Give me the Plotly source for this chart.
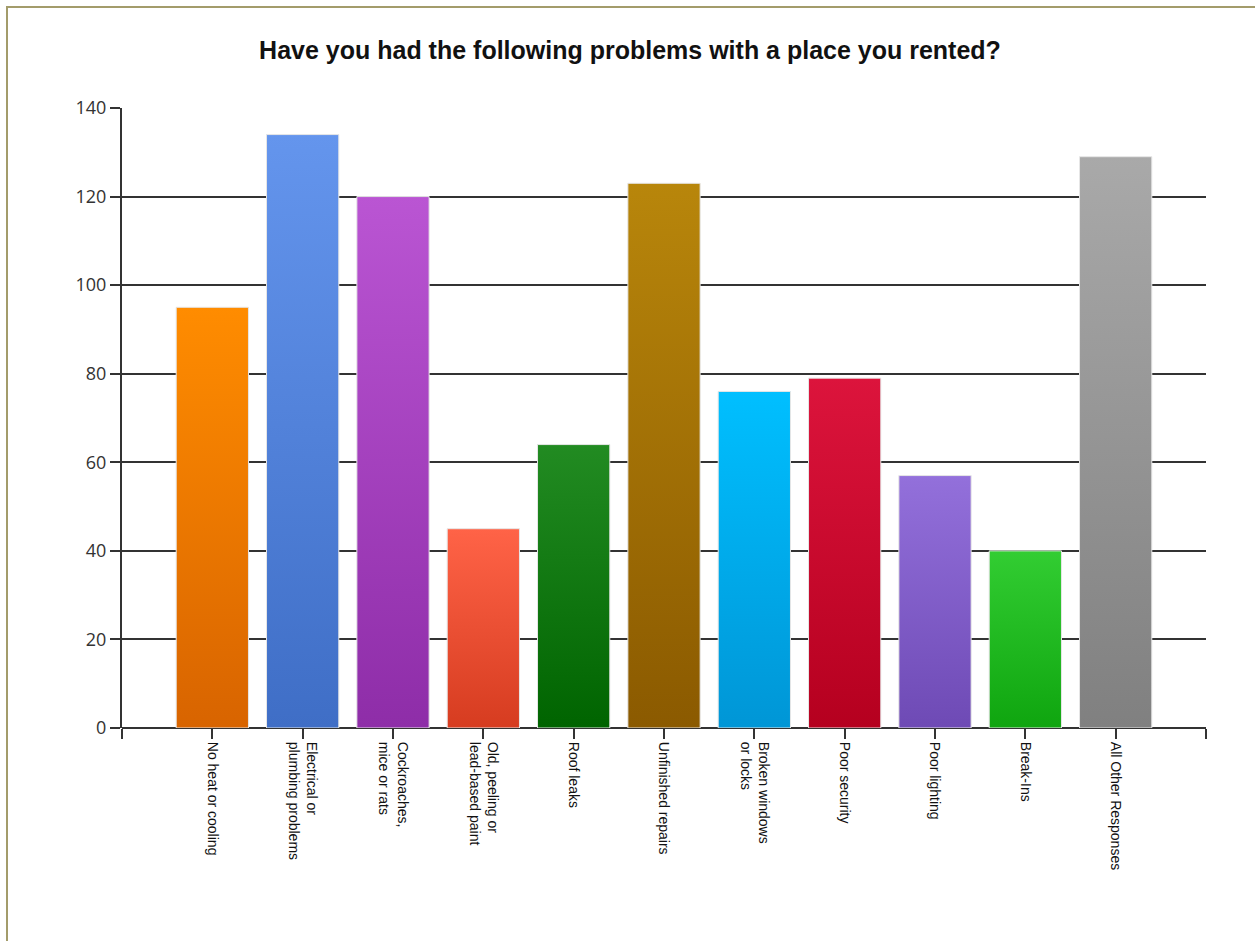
import plotly.graph_objects as go

categories = ["No heat or cooling", "Electrical or<br>plumbing problems", "Cockroaches,<br>mice or rats",
              "Old, peeling or<br>lead-based paint", "Roof leaks", "Unfinished repairs",
              "Broken windows<br>or locks", "Poor security", "Poor lighting", "Break-Ins",
              "All Other Responses"]
counts = [95, 134, 120, 45, 64, 123, 76, 79, 57, 40, 129]
top_colors = ["#FF8C00", "#6495ED", "#BA55D3", "#FF6347", "#228B22", "#B8860B",
              "#00BFFF", "#DC143C", "#9370DB", "#32CD32", "#A9A9A9"]
bottom_colors = ["#D86400", "#3F6EC6", "#8E2DA8", "#D63C20", "#006400", "#8B5A00",
                 "#0096D6", "#B5001F", "#6E4AB5", "#0FA50F", "#808080"]

half = 0.4
fig = go.Figure()
for i, (v, c_top, c_bot) in enumerate(zip(counts, top_colors, bottom_colors)):
    fig.add_trace(go.Scatter(
        x=[i - half, i + half, i + half, i - half, i - half],
        y=[0, 0, v, v, 0],
        mode="lines", fill="toself",
        line=dict(color="#E6E6E6", width=1),
        fillgradient=dict(type="vertical", colorscale=[[0, c_bot], [1, c_top]]),
        hoverinfo="skip", showlegend=False,
    ))

tickvals = list(range(-1, len(categories) + 1))
ticktext = [""] + categories + [""]

fig.update_layout(
    width=1255, height=941,
    margin=dict(l=122, r=49, t=108, b=213),
    paper_bgcolor="white", plot_bgcolor="white",
    title=dict(text="<b>Have you had the following problems with a place you rented?</b>",
               x=0.502, xanchor="center", y=0.947, yanchor="middle",
               font=dict(family="Liberation Sans, Arial", size=25, color="#111")),
    xaxis=dict(range=[-1, len(categories)], tickvals=tickvals, ticktext=ticktext,
               tickangle=90, showgrid=False, zeroline=False,
               showline=False, ticks="outside", ticklen=10, tickwidth=2, tickcolor="#333",
               tickfont=dict(family="Liberation Sans, Arial", size=14, color="#111")),
    yaxis=dict(range=[0, 140], dtick=20, showgrid=True, gridcolor="#333", gridwidth=2,
               zeroline=True, zerolinecolor="#333", zerolinewidth=2,
               showline=True, linecolor="#333", linewidth=2,
               ticks="outside", ticklen=10, tickwidth=2, tickcolor="#333",
               tickfont=dict(family="Open Sans, Noto Sans", size=18, color="#333")),
    shapes=[dict(type="rect", xref="paper", yref="paper",
                 x0=(7 - 122) / 1084, x1=(1260 - 122) / 1084,
                 y0=(728 - 946) / 620, y1=(728 - 7) / 620,
                 line=dict(color="#A39C6B", width=2), fillcolor="rgba(0,0,0,0)", layer="below")],
)

# drop the page's default body margin so the figure sits at the window origin
fig.write_html("out.html", config={"displayModeBar": False},
               post_script="document.body.style.margin='0';")
